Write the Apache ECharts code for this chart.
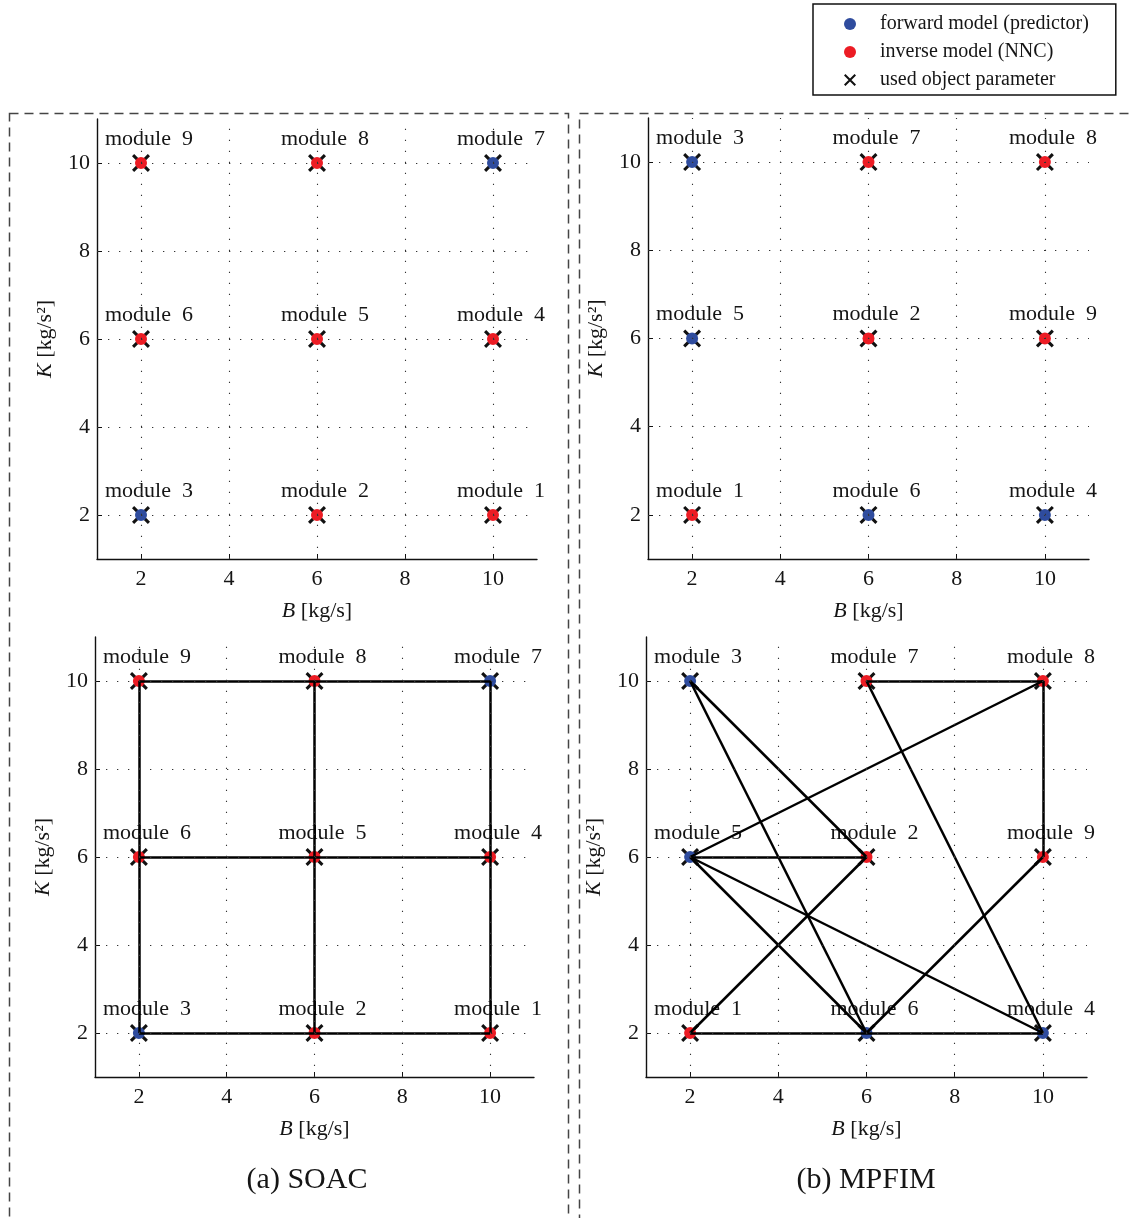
<!DOCTYPE html>
<html>
<head>
<meta charset="utf-8">
<script src="https://cdn.jsdelivr.net/npm/echarts@6/dist/echarts.min.js"></script>
<style>
  html, body { margin: 0; padding: 0; background: #fff; }
  #chart { width: 1133px; height: 1218px; }
</style>
</head>
<body>
<div id="chart"></div>
<script>
// Module numbers and their object parameters (B, K) for each method
const modules = [1, 2, 3, 4, 5, 6, 7, 8, 9];
const soacB = [10, 6, 2, 10, 6, 2, 10, 6, 2];
const soacK = [2, 2, 2, 6, 6, 6, 10, 10, 10];
const mpfimB = [2, 6, 2, 10, 2, 6, 6, 10, 10];
const mpfimK = [2, 6, 10, 2, 6, 2, 10, 10, 6];
// Modules acting as forward model (predictor); all others are inverse models (NNC)
const soacForward = [3, 7];
const mpfimForward = [3, 4, 5, 6];
// Neighbourhood links between modules (3x3 lattice)
const links = [[1, 2], [2, 3], [1, 4], [2, 5], [3, 6], [4, 5], [5, 6], [4, 7], [5, 8], [6, 9], [7, 8], [8, 9]];
// Axis ticks
const tickValues = [2, 4, 6, 8, 10];
const captions = ['(a) SOAC', '(b) MPFIM'];

const FONT = 'Liberation Serif';
const INK = '#151515';
const BLUE = '#2f4c9e';
const RED = '#ec1c24';
const CROSS = 'path://M0,1.2L1.2,0L10,8.8L8.8,10Z M8.8,0L10,1.2L1.2,10L0,8.8Z';

const NAME_FWD = 'forward model (predictor)';
const NAME_INV = 'inverse model (NNC)';
const NAME_OBJ = 'used object parameter';

const panels = [
  { grid: { left: 97, top: 119, width: 440, height: 440 }, B: soacB, K: soacK, fwd: soacForward, links: false },
  { grid: { left: 648, top: 118, width: 441, height: 441 }, B: mpfimB, K: mpfimK, fwd: mpfimForward, links: false },
  { grid: { left: 95, top: 637, width: 439, height: 440 }, B: soacB, K: soacK, fwd: soacForward, links: true },
  { grid: { left: 646, top: 637, width: 441, height: 440 }, B: mpfimB, K: mpfimK, fwd: mpfimForward, links: true }
];

const axisCommon = {
  min: 1, max: 11,
  axisLine: { show: true, lineStyle: { color: '#111', width: 1.4 } },
  axisTick: { show: true, inside: true, length: 5, customValues: tickValues, lineStyle: { color: '#111', width: 1 } },
  axisLabel: { customValues: tickValues, color: INK, fontFamily: FONT, fontSize: 22 },
  splitLine: { show: false },
  nameLocation: 'middle',
  nameGap: 41,
  nameTextStyle: {
    color: INK, fontFamily: FONT, fontSize: 22,
    rich: { i: { fontStyle: 'italic', fontFamily: FONT, fontSize: 22, color: INK } }
  }
};

const grids = [], xAxes = [], yAxes = [], series = [];

panels.forEach((p, i) => {
  grids.push(Object.assign({ containLabel: false }, p.grid));
  xAxes.push(Object.assign({}, axisCommon, {
    type: 'value', gridIndex: i, name: '{i|B} [kg/s]',
    axisLabel: Object.assign({}, axisCommon.axisLabel, { margin: 9 })
  }));
  yAxes.push(Object.assign({}, axisCommon, {
    type: 'value', gridIndex: i, name: '{i|K} [kg/s²]', nameRotate: 90,
    axisLabel: Object.assign({}, axisCommon.axisLabel, { margin: 7 })
  }));

  const pts = modules.map((m, j) => ({ m, value: [p.B[j], p.K[j]] }));

  // dotted grid lines at the tick values
  series.push({
    type: 'line', xAxisIndex: i, yAxisIndex: i, data: [], z: 1, silent: true,
    markLine: {
      silent: true, symbol: 'none', label: { show: false },
      lineStyle: { type: [1.3, 9.7], color: '#333', width: 1.1 },
      data: tickValues.map(v => ({ xAxis: v })).concat(tickValues.map(v => ({ yAxis: v })))
    }
  });

  // crosses with module labels
  series.push({
    type: 'scatter', name: NAME_OBJ, xAxisIndex: i, yAxisIndex: i, z: 2,
    symbol: CROSS, symbolSize: 18,
    itemStyle: { color: '#111', opacity: 1 },
    label: {
      show: true, position: 'top', distance: 4, offset: [8, 0],
      formatter: d => 'module  ' + d.data.m,
      fontFamily: FONT, fontSize: 22, color: INK
    },
    data: pts
  });

  // forward / inverse model dots
  series.push({
    type: 'scatter', name: NAME_FWD, xAxisIndex: i, yAxisIndex: i, z: 3,
    symbol: 'circle', symbolSize: 12, itemStyle: { color: BLUE, opacity: 1 },
    data: pts.filter(d => p.fwd.includes(d.m)).map(d => d.value)
  });
  series.push({
    type: 'scatter', name: NAME_INV, xAxisIndex: i, yAxisIndex: i, z: 3,
    symbol: 'circle', symbolSize: 12, itemStyle: { color: RED, opacity: 1 },
    data: pts.filter(d => !p.fwd.includes(d.m)).map(d => d.value)
  });

  if (p.links) {
    series.push({
      type: 'lines', coordinateSystem: 'cartesian2d', xAxisIndex: i, yAxisIndex: i, z: 4,
      silent: true,
      lineStyle: { color: '#000', width: 2.5, opacity: 1 },
      data: links.map(([a, b]) => ({
        coords: [[p.B[a - 1], p.K[a - 1]], [p.B[b - 1], p.K[b - 1]]]
      }))
    });
  }
});

const chart = echarts.init(document.getElementById('chart'), null, { renderer: 'canvas' });
chart.setOption({
  backgroundColor: '#fff',
  animation: false,
  textStyle: { fontFamily: FONT },
  grid: grids,
  xAxis: xAxes,
  yAxis: yAxes,
  legend: {
    orient: 'vertical', left: 813, top: 4,
    selectedMode: false,
    borderColor: '#111', borderWidth: 1.5,
    padding: [10, 27, 5, 31],
    itemWidth: 12, itemHeight: 12, itemGap: 8,
    textStyle: { fontFamily: FONT, fontSize: 20, color: INK, padding: [0, 0, 0, 19] },
    data: [
      { name: NAME_FWD, icon: 'circle' },
      { name: NAME_INV, icon: 'circle' },
      { name: NAME_OBJ, icon: CROSS }
    ]
  },
  graphic: [
    { type: 'rect', silent: true, shape: { x: 9.5, y: 113.5, width: 559, height: 1200 },
      style: { fill: 'none', stroke: '#444', lineWidth: 1.5, lineDash: [9, 6] } },
    { type: 'rect', silent: true, shape: { x: 579.5, y: 113.5, width: 600, height: 1200 },
      style: { fill: 'none', stroke: '#444', lineWidth: 1.5, lineDash: [9, 6] } },
    { type: 'text', silent: true, style: { x: 307, y: 1180, text: captions[0], textAlign: 'center', textVerticalAlign: 'middle',
      font: '30px "Liberation Serif"', fill: INK } },
    { type: 'text', silent: true, style: { x: 866, y: 1180, text: captions[1], textAlign: 'center', textVerticalAlign: 'middle',
      font: '30px "Liberation Serif"', fill: INK } }
  ],
  series: series
});
</script>
</body>
</html>
